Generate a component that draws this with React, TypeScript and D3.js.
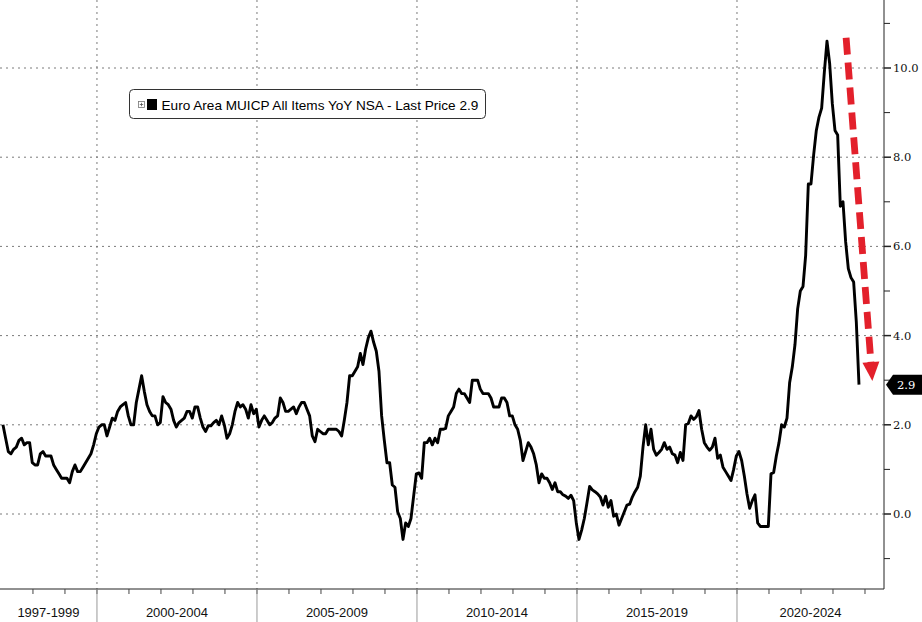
import React from 'react';
import * as d3 from 'd3';

// Euro Area MUICP All Items YoY NSA, monthly, Jan 1997 .. Oct 2023
const startYear = 1997;
const v1997 = [2.0, 1.7, 1.4, 1.35, 1.45, 1.5, 1.65, 1.7, 1.55, 1.6, 1.6, 1.15];
const v1998 = [1.1, 1.1, 1.35, 1.4, 1.3, 1.3, 1.3, 1.1, 1.0, 0.9, 0.8, 0.8];
const v1999 = [0.8, 0.7, 0.95, 1.1, 0.95, 0.95, 1.05, 1.15, 1.25, 1.35, 1.55, 1.8];
const v2000 = [1.95, 2.0, 2.0, 1.75, 1.95, 2.15, 2.1, 2.3, 2.4, 2.45, 2.5, 2.2];
const v2001 = [2.0, 2.0, 2.5, 2.8, 3.1, 2.75, 2.45, 2.3, 2.2, 2.2, 2.0, 2.05];
const v2002 = [2.63, 2.5, 2.45, 2.35, 2.1, 1.95, 2.05, 2.1, 2.15, 2.3, 2.3, 2.15];
const v2003 = [2.4, 2.4, 2.15, 1.95, 1.85, 1.98, 1.98, 2.05, 2.1, 2.0, 2.2, 2.0];
const v2004 = [1.7, 1.8, 2.0, 2.3, 2.5, 2.4, 2.45, 2.35, 2.15, 2.45, 2.25, 2.35];
const v2005 = [1.95, 2.1, 2.2, 2.1, 2.0, 2.05, 2.15, 2.2, 2.6, 2.5, 2.3, 2.3];
const v2006 = [2.35, 2.4, 2.25, 2.4, 2.5, 2.5, 2.35, 2.2, 1.75, 1.62, 1.9, 1.85];
const v2007 = [1.8, 1.8, 1.9, 1.9, 1.9, 1.9, 1.85, 1.75, 2.1, 2.5, 3.1, 3.1];
const v2008 = [3.2, 3.3, 3.6, 3.35, 3.7, 3.95, 4.1, 3.85, 3.65, 3.2, 2.2, 1.65];
const v2009 = [1.15, 1.15, 0.65, 0.6, 0.05, -0.1, -0.57, -0.2, -0.28, -0.1, 0.4, 0.9];
const v2010 = [0.92, 0.8, 1.6, 1.6, 1.7, 1.55, 1.7, 1.6, 1.9, 1.9, 1.92, 2.2];
const v2011 = [2.3, 2.4, 2.7, 2.8, 2.7, 2.7, 2.6, 2.5, 3.0, 3.0, 3.0, 2.8];
const v2012 = [2.7, 2.7, 2.7, 2.6, 2.4, 2.4, 2.4, 2.6, 2.6, 2.5, 2.2, 2.2];
const v2013 = [2.0, 1.9, 1.65, 1.2, 1.4, 1.6, 1.5, 1.35, 1.1, 0.7, 0.9, 0.8];
const v2014 = [0.8, 0.7, 0.55, 0.7, 0.5, 0.5, 0.43, 0.4, 0.35, 0.42, 0.3, -0.2];
const v2015 = [-0.57, -0.36, -0.1, 0.25, 0.62, 0.54, 0.5, 0.45, 0.38, 0.2, 0.4, 0.15];
const v2016 = [0.3, -0.05, 0.0, -0.25, -0.1, 0.05, 0.2, 0.22, 0.38, 0.5, 0.6, 0.85];
const v2017 = [1.5, 2.0, 1.55, 1.9, 1.45, 1.32, 1.38, 1.45, 1.6, 1.45, 1.5, 1.35];
const v2018 = [1.32, 1.15, 1.38, 1.2, 2.0, 2.03, 2.2, 2.12, 2.18, 2.32, 1.9, 1.6];
const v2019 = [1.5, 1.43, 1.5, 1.7, 1.25, 1.32, 1.05, 0.95, 0.85, 0.75, 1.0, 1.3];
const v2020 = [1.4, 1.2, 0.85, 0.45, 0.13, 0.3, 0.43, -0.2, -0.28, -0.28, -0.28, -0.28];
const v2021 = [0.9, 0.93, 1.3, 1.6, 2.0, 1.95, 2.15, 2.95, 3.3, 3.8, 4.6, 5.0];
const v2022 = [5.1, 5.8, 7.4, 7.4, 8.05, 8.6, 8.9, 9.1, 9.9, 10.6, 10.1, 9.2];
const v2023 = [8.6, 8.5, 6.9, 7.0, 6.1, 5.5, 5.3, 5.2, 4.3, 2.9];

const yearlySeries = [
  v1997, v1998, v1999, v2000, v2001, v2002, v2003, v2004, v2005, v2006, v2007, v2008, v2009,
  v2010, v2011, v2012, v2013, v2014, v2015, v2016, v2017, v2018, v2019, v2020, v2021, v2022, v2023,
];

const yMajorTicks = [0, 2, 4, 6, 8, 10];
const yMinorTicks = [-1, 1, 3, 5, 7, 9, 11];
const periodLabels = ['1997-1999', '2000-2004', '2005-2009', '2010-2014', '2015-2019', '2020-2024'];
const periodStarts = [2000, 2005, 2010, 2015, 2020];
const yearTicks = d3.range(1998, 2025);
const legendText = 'Euro Area MUICP All Items YoY NSA - Last Price 2.9';
const lastPrice = 2.9;
const arrowFrom = { t: 2023.41, v: 10.68 };
const arrowTo = { t: 2024.23, v: 2.98 };

const W = 922;
const H = 622;
const plotRight = 884;
const plotBottom = 589;

export default function App() {
  const data = yearlySeries.flatMap((arr, yi) =>
    arr.map((v, mi) => ({ t: startYear + yi + (mi + 0.75) / 12, v }))
  );

  const x = d3.scaleLinear().domain([1996.97, 2024.594]).range([0, plotRight]);
  const y = d3.scaleLinear().domain([0, 10]).range([514, 68]);

  const line = d3
    .line<{ t: number; v: number }>()
    .x((d) => x(d.t))
    .y((d) => y(d.v));

  const bounds = [x.domain()[0], ...periodStarts, x.domain()[1]];

  // arrow geometry
  const ax0 = x(arrowFrom.t);
  const ay0 = y(arrowFrom.v);
  const ax1 = x(arrowTo.t);
  const ay1 = y(arrowTo.v);
  const dx = ax1 - ax0;
  const dy = ay1 - ay0;
  const len = Math.sqrt(dx * dx + dy * dy);
  const ux = dx / len;
  const uy = dy / len;
  const headLen = 19;
  const headHalf = 8.5;
  const bx = ax1 - ux * headLen;
  const by = ay1 - uy * headLen;
  const headPts = [
    [bx - uy * headHalf, by + ux * headHalf],
    [bx + uy * headHalf, by - ux * headHalf],
    [ax1, ay1],
  ]
    .map((p) => p.join(','))
    .join(' ');

  const ly = y(lastPrice);
  const axisFont = "'DejaVu Serif', serif";
  const labelFont = "'Liberation Sans', Arial, sans-serif";

  return (
    <svg
      width={W}
      height={H}
      style={{ position: 'absolute', left: 0, top: 0, background: '#fff' }}
    >
      <rect x={0} y={0} width={W} height={H} fill="#fff" />
      {/* horizontal gridlines */}
      {yMajorTicks.map((t) => (
        <line
          key={'hg' + t}
          x1={0}
          x2={plotRight}
          y1={y(t)}
          y2={y(t)}
          stroke="#7a7a7a"
          strokeWidth={1}
          strokeDasharray="2,4"
        />
      ))}
      {/* vertical gridlines */}
      {periodStarts.map((p) => (
        <line
          key={'vg' + p}
          x1={x(p)}
          x2={x(p)}
          y1={0}
          y2={plotBottom}
          stroke="#7a7a7a"
          strokeWidth={1}
          strokeDasharray="2,4"
        />
      ))}

      {/* series */}
      <path
        d={line(data) || ''}
        fill="none"
        stroke="#000"
        strokeWidth={2.9}
        strokeLinejoin="round"
      />

      {/* legend */}
      <rect x={129.5} y={89.5} width={356} height={29} rx={4} fill="#fff" stroke="#333" />
      <rect x={138.5} y={101.5} width={6} height={6} fill="#fff" stroke="#777" strokeWidth={0.8} />
      <line x1={139.8} x2={143.2} y1={104.5} y2={104.5} stroke="#555" strokeWidth={0.8} />
      <line x1={141.5} x2={141.5} y1={102.8} y2={106.2} stroke="#555" strokeWidth={0.8} />
      <rect x={147} y={99} width={10} height={11} fill="#000" />
      <text x={161.5} y={110} fontFamily={labelFont} fontSize={13.6} fill="#000">
        {legendText}
      </text>

      {/* red arrow */}
      <line
        x1={ax0}
        y1={ay0}
        x2={bx + ux * 1}
        y2={by + uy * 1}
        stroke="#e3202b"
        strokeWidth={6.8}
        strokeDasharray="17,8"
      />
      <polygon points={headPts} fill="#e3202b" />

      {/* right axis */}
      <line x1={plotRight} x2={plotRight} y1={0} y2={plotBottom} stroke="#222" strokeWidth={1} />
      {yMinorTicks.map((t) => (
        <line
          key={'mt' + t}
          x1={plotRight}
          x2={plotRight + 6}
          y1={y(t)}
          y2={y(t)}
          stroke="#222"
          strokeWidth={1}
        />
      ))}
      {yMajorTicks.map((t) => (
        <g key={'Mt' + t}>
          <line x1={plotRight} x2={plotRight + 7} y1={y(t)} y2={y(t)} stroke="#222" strokeWidth={1.5} />
          <text
            x={plotRight + 9}
            y={y(t)}
            dominantBaseline="central"
            fontFamily={axisFont}
            fontSize={11.5}
            fill="#111"
          >
            {d3.format('.1f')(t)}
          </text>
        </g>
      ))}

      {/* last price tag */}
      <polygon
        points={`${plotRight + 2},${ly} ${plotRight + 9},${ly - 10} ${W},${ly - 10} ${W},${ly + 10} ${plotRight + 9},${ly + 10}`}
        fill="#000"
      />
      <text
        x={plotRight + 13}
        y={ly}
        dominantBaseline="central"
        fontFamily={axisFont}
        fontSize={11.5}
        fill="#fff"
      >
        {d3.format('.1f')(lastPrice)}
      </text>

      {/* bottom axis */}
      <line x1={0} x2={plotRight} y1={plotBottom} y2={plotBottom} stroke="#222" strokeWidth={1} />
      {yearTicks.map((yr) => (
        <line
          key={'yt' + yr}
          x1={x(yr)}
          x2={x(yr)}
          y1={plotBottom}
          y2={plotBottom + 5}
          stroke="#444"
          strokeWidth={1}
        />
      ))}
      {periodStarts.map((p) => (
        <line
          key={'sep' + p}
          x1={x(p)}
          x2={x(p)}
          y1={plotBottom}
          y2={H}
          stroke="#999"
          strokeWidth={1}
        />
      ))}
      {periodLabels.map((lab, i) => (
        <text
          key={lab}
          x={(x(bounds[i]) + x(bounds[i + 1])) / 2}
          y={617}
          textAnchor="middle"
          fontFamily={labelFont}
          fontSize={13}
          fill="#111"
        >
          {lab}
        </text>
      ))}
    </svg>
  );
}
